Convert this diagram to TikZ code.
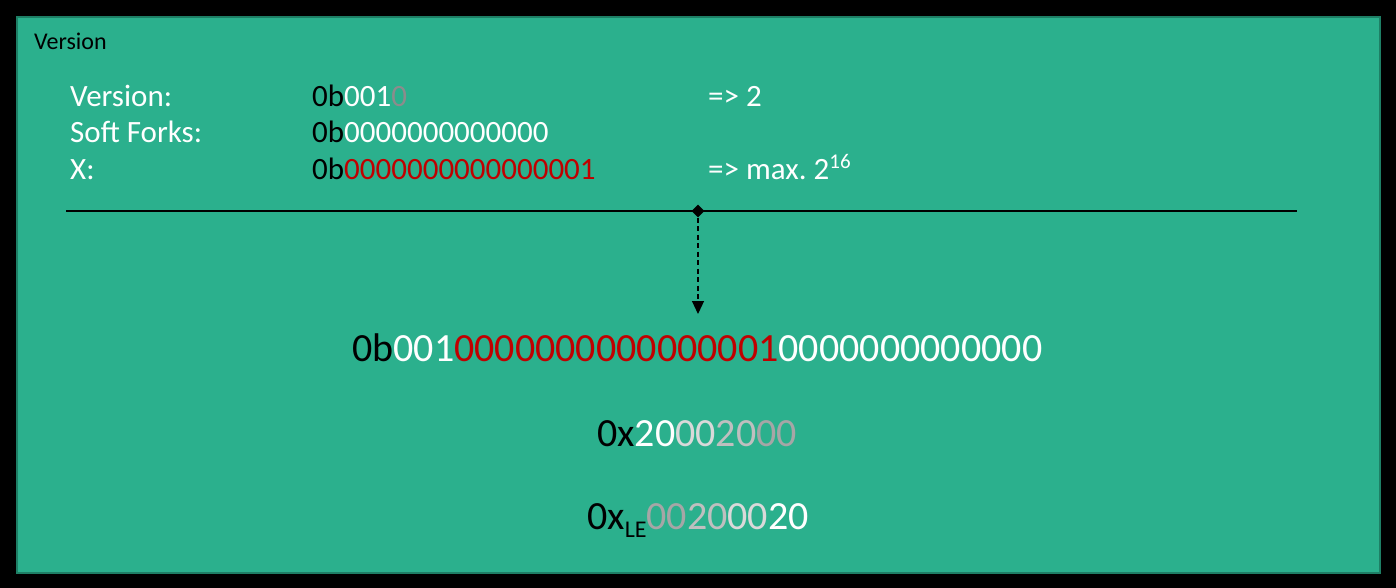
\documentclass[tikz,border=0pt]{standalone}
\usepackage{fontspec}
\setmainfont{Carlito}
\usetikzlibrary{shapes.geometric,arrows.meta}
\definecolor{panel}{HTML}{2BB08D}
\definecolor{panelrule}{HTML}{1E7F65}
\definecolor{dred}{HTML}{C00000}
\definecolor{gmid}{HTML}{8C8C8C}
\definecolor{gA}{HTML}{D9D9D9}
\definecolor{gB}{HTML}{BFBFBF}
\definecolor{gC}{HTML}{A6A6A6}
\begin{document}
\begin{tikzpicture}[x=1pt,y=-1pt,
  rowtxt/.style={anchor=base west,inner sep=0pt,text=white,font=\fontsize{31}{36}\selectfont},
  bigtxt/.style={anchor=base west,inner sep=0pt,text=white,font=\fontsize{40}{46}\selectfont},
  titletxt/.style={anchor=base west,inner sep=0pt,text=black,font=\fontsize{24}{28}\selectfont}]
\useasboundingbox (0,0) rectangle (1396,588);
\fill[black] (0,0) rectangle (1396,588);
\draw[panelrule,fill=panel,line width=2pt] (17,17) rectangle (1380,573);
\node[titletxt] (title) at (34,50) {Version};
\node[rowtxt] (lv) at (70,107) {Version:};
\node[rowtxt] (ls) at (70,143) {Soft Forks:};
\node[rowtxt] (lx) at (70,179) {X:};
\node[rowtxt] (vv) at (312,107) {\textcolor{black}{0b}001\textcolor{gmid}{0}};
\node[rowtxt] (vs) at (312,143) {\textcolor{black}{0b}0000000000000};
\node[rowtxt] (vx) at (312,179) {\textcolor{black}{0b}\textcolor{dred}{0000000000000001}};
\node[rowtxt] (rv) at (708,107) {=> 2};
\node[rowtxt] (rx) at (708,179) {=> max.~2\raisebox{11pt}{\fontsize{21}{21}\selectfont 16}};
\coordinate (lineL) at (66,211);
\coordinate (lineR) at (1297,211);
\draw[black,line width=1.2pt] (lineL) -- (lineR);
\node[diamond,fill=black,inner sep=0pt,minimum size=13pt] (dia) at (698,211) {};
\coordinate (tip) at (698,314);
\draw[black,dash pattern=on 5pt off 3.5pt,line width=1.2pt,-{Triangle[width=12pt,length=13pt]}] (dia) -- (tip);
\node[bigtxt] (bin) at (352,361) {\textcolor{black}{0b}001\textcolor{dred}{0000000000000001}0000000000000};
\node[bigtxt] (hex) at (597,446) {\textcolor{black}{0x}20\textcolor{gA}{00}\textcolor{gB}{20}\textcolor{gC}{00}};
\node[bigtxt] (hexle) at (587,529) {\textcolor{black}{0x\raisebox{-8pt}{\fontsize{24}{24}\selectfont LE}}\textcolor{gC}{00}\textcolor{gB}{20}\textcolor{gA}{00}20};
\end{tikzpicture}
\end{document}
